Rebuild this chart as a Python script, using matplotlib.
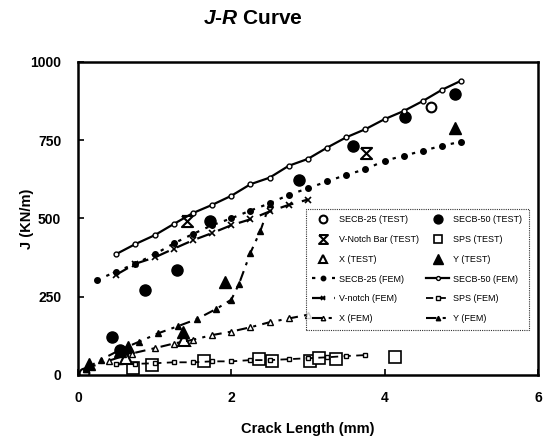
import matplotlib
matplotlib.use("Agg")
import matplotlib.pyplot as plt

plt.rcParams['font.family'] = ['Liberation Sans', 'DejaVu Sans']
plt.rcParams['mathtext.fontset'] = 'custom'
plt.rcParams['mathtext.it'] = 'Liberation Sans:bold:italic'
plt.rcParams['mathtext.rm'] = 'Liberation Sans:bold'

# ---------------- data ----------------
# FEM curves
secb25_fem_x = [0.25, 0.5, 0.75, 1.0, 1.25, 1.5, 1.75, 2.0, 2.25, 2.5, 2.75, 3.0,
                3.25, 3.5, 3.75, 4.0, 4.25, 4.5, 4.75, 5.0]
secb25_fem_y = [303, 330, 355, 385, 420, 450, 478, 500, 525, 548, 575, 596,
                618, 639, 657, 684, 700, 716, 732, 745]

secb50_fem_x = [0.5, 0.75, 1.0, 1.25, 1.5, 1.75, 2.0, 2.25, 2.5, 2.75, 3.0, 3.25,
                3.5, 3.75, 4.0, 4.25, 4.5, 4.75, 5.0]
secb50_fem_y = [386, 418, 446, 482, 517, 543, 572, 609, 630, 668, 690, 726,
                759, 785, 817, 843, 875, 911, 940]

vnotch_fem_x = [0.5, 0.75, 1.0, 1.25, 1.5, 1.75, 2.0, 2.25, 2.5, 2.75, 3.0]
vnotch_fem_y = [320, 355, 375, 403, 430, 453, 478, 497, 522, 543, 560]

sps_fem_x = [0.5, 0.75, 1.0, 1.25, 1.5, 1.75, 2.0, 2.25, 2.5, 2.75, 3.0, 3.25, 3.5, 3.75]
sps_fem_y = [33, 35, 37, 40, 40, 43, 43, 47, 47, 50, 53, 56, 60, 63]

x_fem_x = [0.1, 0.4, 0.7, 1.0, 1.25, 1.5, 1.75, 2.0, 2.25, 2.5, 2.75, 3.0]
x_fem_y = [20, 45, 68, 85, 100, 112, 127, 138, 152, 168, 180, 192]

y_fem_x = [0.1, 0.3, 0.55, 0.8, 1.05, 1.3, 1.55, 1.8, 2.0, 2.1, 2.25, 2.38, 2.5]
y_fem_y = [20, 48, 80, 106, 133, 155, 178, 210, 240, 290, 390, 460, 545]

# TEST points
secb25_test_x = [0.08, 4.6]
secb25_test_y = [5, 857]

secb50_test_x = [0.44, 0.55, 0.88, 1.29, 1.72, 2.88, 3.59, 4.27, 4.92]
secb50_test_y = [120, 80, 271, 335, 490, 623, 731, 825, 897]

vnotch_test_x = [1.42, 3.76]
vnotch_test_y = [490, 708]

sps_test_x = [0.72, 0.96, 1.64, 2.36, 2.53, 3.03, 3.14, 3.36, 4.14]
sps_test_y = [22, 32, 43, 50, 45, 43, 53, 50, 58]

x_test_x = [0.63, 1.38]
x_test_y = [55, 112]

y_test_x = [0.15, 0.55, 0.65, 1.37, 1.92, 4.92]
y_test_y = [35, 75, 90, 138, 298, 788]

x_ticks = [0, 2, 4, 6]
y_ticks = [0, 250, 500, 750, 1000]

# ---------------- plot ----------------
fig = plt.figure(figsize=(5.43, 4.42), dpi=100)
ax = fig.add_axes([0.1436, 0.152, 0.847, 0.708])

hour = [(-1, 1), (1, 1), (-1, -1), (1, -1), (-1, 1)]

h = {}
h['secb25_test'], = ax.plot(secb25_test_x, secb25_test_y, 'o', ms=7, mfc='white', mec='black', mew=1.5, ls='none', label='SECB-25 (TEST)')
h['secb50_test'], = ax.plot(secb50_test_x, secb50_test_y, 'o', ms=8, color='black', ls='none', label='SECB-50 (TEST)')
h['vnotch_test'], = ax.plot(vnotch_test_x, vnotch_test_y, marker=hour, ms=8, mfc='none', mec='black', mew=1.5, ls='none', label='V-Notch Bar (TEST)')
h['sps_test'], = ax.plot(sps_test_x, sps_test_y, 's', ms=8, mfc='white', mec='black', mew=1.2, ls='none', label='SPS (TEST)')
h['x_test'], = ax.plot(x_test_x, x_test_y, '^', ms=8, mfc='white', mec='black', mew=1.5, ls='none', label='X (TEST)')
h['y_test'], = ax.plot(y_test_x, y_test_y, '^', ms=9, color='black', ls='none', label='Y (TEST)')

h['secb25_fem'], = ax.plot(secb25_fem_x, secb25_fem_y, color='black', lw=1.6, ls=(0, (1.5, 3)), marker='o', ms=4, label='SECB-25 (FEM)')
h['secb50_fem'], = ax.plot(secb50_fem_x, secb50_fem_y, color='black', lw=1.6, ls='-', marker='o', ms=3.5, mfc='white', mew=1, label='SECB-50 (FEM)')
h['vnotch_fem'], = ax.plot(vnotch_fem_x, vnotch_fem_y, color='black', lw=1.6, ls=(0, (6, 4)), marker='x', ms=4, mew=1.2, label='V-notch (FEM)')
h['sps_fem'], = ax.plot(sps_fem_x, sps_fem_y, color='black', lw=1.3, ls=(0, (4, 3)), marker='s', ms=3.5, mfc='white', mew=1, label='SPS (FEM)')
h['x_fem'], = ax.plot(x_fem_x, x_fem_y, color='black', lw=1.5, ls=(0, (5, 3, 1.5, 3)), marker='^', ms=4, mfc='white', mew=1, label='X (FEM)')
h['y_fem'], = ax.plot(y_fem_x, y_fem_y, color='black', lw=1.5, ls=(0, (5, 3, 1.5, 3)), marker='^', ms=4, label='Y (FEM)')

order = ['secb25_test', 'vnotch_test', 'x_test', 'secb25_fem', 'vnotch_fem', 'x_fem',
         'secb50_test', 'sps_test', 'y_test', 'secb50_fem', 'sps_fem', 'y_fem']
leg = ax.legend([h[k] for k in order], [h[k].get_label() for k in order],
                ncol=2, loc='lower right', bbox_to_anchor=(0.99, 0.13),
                fontsize=6.5, frameon=True, fancybox=False, edgecolor='black',
                handlelength=2.5, columnspacing=0.8, labelspacing=1.2,
                borderpad=0.7, handletextpad=0.5, markerscale=0.8)
leg.get_frame().set_linewidth(0.8)
leg.get_frame().set_linestyle((0, (1, 1)))

ax.set_xlim(0, 6)
ax.set_ylim(0, 1000)
ax.set_xticks(x_ticks)
ax.set_yticks(y_ticks)
ax.tick_params(direction='in', length=4, width=1.2, labelsize=10, pad=12)
for lab in ax.get_xticklabels() + ax.get_yticklabels():
    lab.set_fontweight('bold')
for s in ax.spines.values():
    s.set_linewidth(1.8)

ax.set_xlabel('Crack Length (mm)', fontsize=10.5, fontweight='bold')
ax.set_ylabel('J (KN/m)', fontsize=10.5, fontweight='bold')
ax.xaxis.set_label_coords(0.5, -0.15)
ax.yaxis.set_label_coords(-0.095, 0.5)
fig.text(0.466, 0.958, r'$J$-$R$ Curve', fontsize=15, fontweight='bold', ha='center', va='center')

fig.savefig('out.png', dpi=100)
